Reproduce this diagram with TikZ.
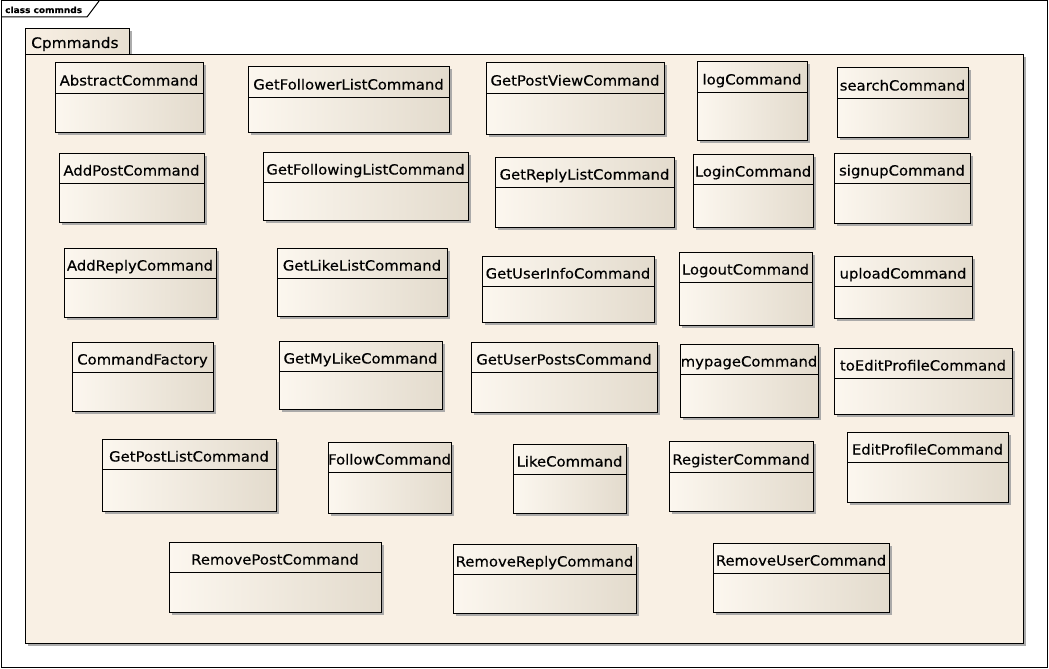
\documentclass[tikz,border=0pt]{standalone}
\usepackage{fontspec}
\setmainfont[FakeStretch=1.06,FakeBold=0.35]{DejaVu Sans}
\usetikzlibrary{shadows}
\definecolor{pkgfill}{HTML}{F9F0E4}
\definecolor{boxlight}{HTML}{FCF7EF}
\definecolor{boxdark}{HTML}{E3DBCD}
\definecolor{shadowgray}{HTML}{A3A3A3}
\tikzset{
  umlshadow/.style={drop shadow={shadow xshift=2.5pt, shadow yshift=-2.5pt, fill=shadowgray, opacity=0.9}},
  umlbox/.style={draw=black, line width=1pt, left color=boxlight, right color=boxdark,
    inner sep=0pt, outer sep=0pt, rectangle, umlshadow},
  umlname/.style={font=\fontsize{14}{16}\selectfont, inner sep=0pt, text=black},
  divider/.style={draw=black, line width=1pt},
  pkgbody/.style={draw=black, line width=1pt, fill=pkgfill, inner sep=0pt, outer sep=0pt, rectangle, umlshadow},
  pkgtabstyle/.style={draw=black, line width=1pt, left color=pkgfill, right color=boxdark!80!pkgfill,
    inner sep=0pt, outer sep=0pt, rectangle, umlshadow},
  framebox/.style={draw=black, line width=1pt, fill=white, inner sep=0pt, outer sep=0pt, rectangle},
}
\newcommand{\umlclass}[7]{%
  \node[umlbox, minimum width={#4-#2}, minimum height={#5-#3}, anchor=north west] (#1) at (#2,#3) {};
  \draw[divider] (#1.west |- 0,#6) -- (#1.east |- 0,#6);
  \node[umlname, anchor=base] (#1-name) at ({(#2+#4)/2},{#6-7.5}) {#7};
}
\begin{document}
\begin{tikzpicture}[x=1pt,y=-1pt]
\useasboundingbox (0,0) rectangle (1049,669);
\fill[white] (0,0) rectangle (1049,669);
% outer frame
\node[framebox, minimum width=1046, minimum height=666, anchor=north west] (frame) at (1,1) {};
\coordinate (fl1) at (1,17);
\coordinate (fl2) at (87,17);
\coordinate (fl3) at (99,1);
\draw[line width=1pt] (fl1) -- (fl2) -- (fl3);
\node[font=\bfseries\fontsize{8.5}{10}\selectfont, inner sep=0pt, anchor=base west] (framelabel) at (5,13) {class commnds};
% package
\node[pkgtabstyle, minimum width=104, minimum height=26, anchor=north west] (pkgtab) at (25,29) {};
\node[pkgbody, minimum width=998, minimum height=588, anchor=north west] (pkg) at (25,55) {};
\node[font=\fontsize{14.5}{16}\selectfont, inner sep=0pt, anchor=base west] (pkgname) at (31,48) {Cpmmands};
% classes
\umlclass{abstract}{55}{63}{203}{132}{93}{AbstractCommand}
\umlclass{getfollower}{248}{67}{449}{132}{97}{GetFollowerListCommand}
\umlclass{getpostview}{486}{63}{664}{134}{93}{GetPostViewCommand}
\umlclass{log}{697}{62}{807}{140}{92}{logCommand}
\umlclass{search}{837}{68}{968}{137}{98}{searchCommand}
\umlclass{addpost}{59}{153}{204}{222}{183}{AddPostCommand}
\umlclass{getfollowing}{263}{152}{468}{220}{182}{GetFollowingListCommand}
\umlclass{getreply}{495}{157}{674}{227}{187}{GetReplyListCommand}
\umlclass{login}{693}{154}{813}{227}{184}{LoginCommand}
\umlclass{signup}{834}{153}{970}{223}{183}{signupCommand}
\umlclass{addreply}{64}{248}{216}{317}{278}{AddReplyCommand}
\umlclass{getlike}{277}{248}{447}{316}{278}{GetLikeListCommand}
\umlclass{getuserinfo}{482}{256}{654}{322}{286}{GetUserInfoCommand}
\umlclass{logout}{679}{252}{812}{325}{282}{LogoutCommand}
\umlclass{upload}{834}{256}{972}{318}{286}{uploadCommand}
\umlclass{factory}{72}{342}{213}{411}{372}{CommandFactory}
\umlclass{getmylike}{279}{341}{442}{409}{371}{GetMyLikeCommand}
\umlclass{getuserposts}{471}{342}{657}{412}{372}{GetUserPostsCommand}
\umlclass{mypage}{680}{344}{818}{417}{374}{mypageCommand}
\umlclass{toedit}{834}{348}{1012}{414}{378}{toEditProfileCommand}
\umlclass{getpostlist}{102}{439}{276}{511}{469}{GetPostListCommand}
\umlclass{follow}{328}{442}{451}{513}{472}{FollowCommand}
\umlclass{like}{513}{444}{626}{513}{474}{LikeCommand}
\umlclass{register}{669}{441}{813}{511}{472}{RegisterCommand}
\umlclass{editprofile}{847}{432}{1008}{502}{462}{EditProfileCommand}
\umlclass{removepost}{169}{542}{381}{612}{572}{RemovePostCommand}
\umlclass{removereply}{453}{544}{636}{613}{574}{RemoveReplyCommand}
\umlclass{removeuser}{713}{543}{889}{612}{573}{RemoveUserCommand}
\end{tikzpicture}
\end{document}
